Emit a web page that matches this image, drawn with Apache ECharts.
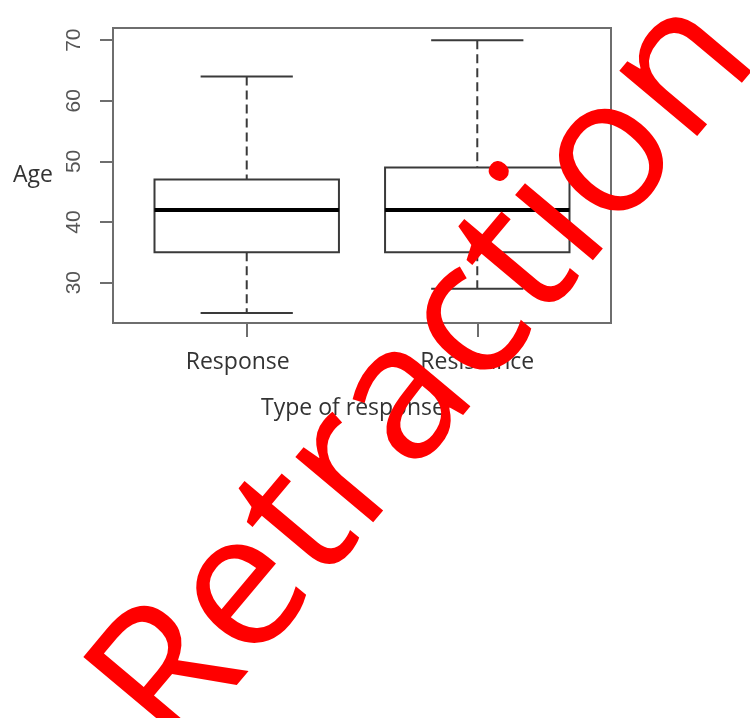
<!DOCTYPE html>
<html>
<head>
<meta charset="utf-8">
<script src="https://cdn.jsdelivr.net/npm/echarts@6/dist/echarts.min.js"></script>
<style>
  html, body { margin: 0; padding: 0; background: #fff; }
  #chart { width: 750px; height: 718px; }
</style>
</head>
<body>
<div id="chart"></div>
<script>
// box statistics
const categories = ['Response', 'Resistance'];
const positions = [1, 2];
const whiskerLow = [25, 29];
const q1 = [35, 35];
const median = [42, 42];
const q3 = [47, 49];
const whiskerHigh = [64, 70];
const yTicks = [30, 40, 50, 60, 70];

const boxWidth = 0.8; // in x units, as in R

const rows = positions.map((p, i) => [p, whiskerLow[i], q1[i], median[i], q3[i], whiskerHigh[i]]);

const lineColor = '#3a3a3a';
const frameColor = '#6e6e6e';
const textColor = '#333';

function renderBox(params, api) {
    const x = api.value(0);
    const lo = api.coord([x, api.value(1)]);
    const b1 = api.coord([x, api.value(2)]);
    const md = api.coord([x, api.value(3)]);
    const b3 = api.coord([x, api.value(4)]);
    const hi = api.coord([x, api.value(5)]);
    const bw = api.size([boxWidth, 0])[0];
    const cw = bw / 2;
    const cx = md[0];
    const solid = { stroke: lineColor, lineWidth: 2, fill: null };
    const dashed = { stroke: lineColor, lineWidth: 2, lineDash: [9, 5] };
    return {
        type: 'group',
        children: [
            { type: 'line', shape: { x1: cx, y1: hi[1], x2: cx, y2: b3[1] }, style: dashed },
            { type: 'line', shape: { x1: cx, y1: b1[1], x2: cx, y2: lo[1] }, style: dashed },
            { type: 'line', shape: { x1: cx - cw / 2, y1: hi[1], x2: cx + cw / 2, y2: hi[1] }, style: solid },
            { type: 'line', shape: { x1: cx - cw / 2, y1: lo[1], x2: cx + cw / 2, y2: lo[1] }, style: solid },
            { type: 'rect', shape: { x: cx - bw / 2, y: b3[1], width: bw, height: b1[1] - b3[1] }, style: solid },
            { type: 'line', shape: { x1: cx - bw / 2, y1: md[1], x2: cx + bw / 2, y2: md[1] }, style: { stroke: '#000', lineWidth: 4 } }
        ]
    };
}

const chart = echarts.init(document.getElementById('chart'));

chart.setOption({
    animation: false,
    grid: {
        left: 113, top: 28, width: 498, height: 295,
        show: true, borderColor: frameColor, borderWidth: 2, backgroundColor: 'transparent'
    },
    xAxis: {
        type: 'value',
        min: 0.42,
        max: 2.58,
        name: 'Type of response',
        nameLocation: 'middle',
        nameGap: 74,
        nameTextStyle: { fontFamily: 'Open Sans', fontSize: 23, color: textColor, padding: [0, 18, 0, 0] },
        axisLine: { show: true, lineStyle: { color: frameColor, width: 2 } },
        axisTick: { show: true, customValues: positions, length: 14, lineStyle: { color: frameColor, width: 2 } },
        axisLabel: {
            customValues: positions,
            margin: 28,
            fontFamily: 'Open Sans',
            fontSize: 23,
            color: textColor,
            formatter: v => v === 1 ? '{a|' + categories[0] + '}' : categories[positions.indexOf(v)],
            rich: { a: { fontFamily: 'Open Sans', fontSize: 23, color: textColor, padding: [0, 18, 0, 0] } }
        },
        splitLine: { show: false }
    },
    yAxis: {
        type: 'value',
        min: 23.35,
        max: 72,
        name: 'Age',
        nameLocation: 'middle',
        nameRotate: 0,
        nameGap: 60,
        nameTextStyle: { fontFamily: 'Open Sans', fontSize: 23, color: textColor },
        axisLine: { show: true, lineStyle: { color: frameColor, width: 2 } },
        axisTick: { show: true, customValues: yTicks, length: 13, lineStyle: { color: frameColor, width: 2 } },
        axisLabel: {
            customValues: yTicks,
            rotate: 90,
            margin: 28,
            fontFamily: 'Liberation Sans',
            fontSize: 21,
            color: '#555'
        },
        splitLine: { show: false }
    },
    series: [{
        type: 'custom',
        renderItem: renderBox,
        encode: { x: 0, y: [1, 2, 3, 4, 5] },
        data: rows,
        z: 2
    }],
    graphic: [{
        type: 'text',
        x: 427,
        y: 374,
        rotation: 50 * Math.PI / 180,
        z: 100,
        style: {
            text: 'Retraction',
            x: 0,
            y: 0,
            align: 'center',
            verticalAlign: 'middle',
            fontFamily: 'Open Sans',
            fontSize: 190,
            fill: '#ff0000'
        }
    }]
});
</script>
</body>
</html>
